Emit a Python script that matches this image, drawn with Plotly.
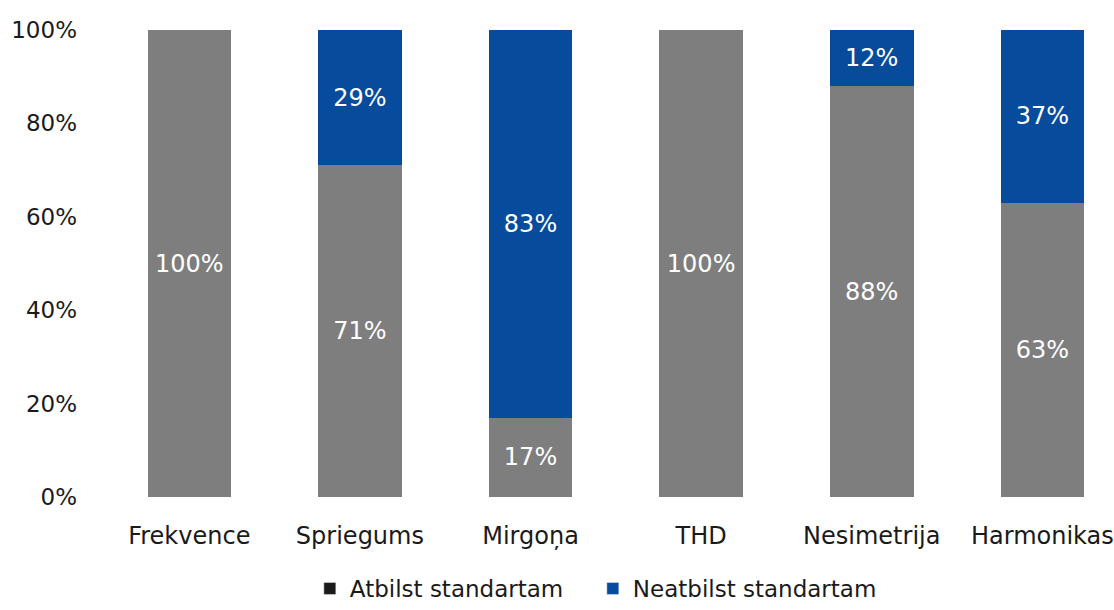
import plotly.graph_objects as go

categories = ["Frekvence", "Spriegums", "Mirgoņa", "THD", "Nesimetrija", "Harmonikas"]
atbilst = [100, 71, 17, 100, 88, 63]
neatbilst = [0, 29, 83, 0, 12, 37]
y_ticks = [0, 20, 40, 60, 80, 100]
y_tick_labels = [f"{v}%" for v in y_ticks]

GRAY = "#7e7e7e"
BLUE = "#064b9c"
FONT = "DejaVu Sans"

def labels(vals):
    return [f"{v}%" if v > 0 else "" for v in vals]

fig = go.Figure()
fig.add_trace(go.Bar(
    x=categories, y=atbilst, name="Atbilst standartam",
    marker=dict(color=GRAY, line=dict(width=0)),
    text=labels(atbilst), textposition="inside", insidetextanchor="middle",
    textfont=dict(color="white", size=24, family=FONT),
    showlegend=False,
))
fig.add_trace(go.Bar(
    x=categories, y=neatbilst, name="Neatbilst standartam",
    marker=dict(color=BLUE, line=dict(width=0)),
    text=labels(neatbilst), textposition="inside", insidetextanchor="middle",
    textfont=dict(color="white", size=24, family=FONT),
    showlegend=False,
))
# legend entries (the first one uses a dark swatch)
fig.add_trace(go.Bar(x=[None], y=[None], name="Atbilst standartam",
                     marker=dict(color="#1a1a1a")))
fig.add_trace(go.Bar(x=[None], y=[None], name="Neatbilst standartam",
                     marker=dict(color=BLUE)))

fig.update_layout(
    width=1114, height=610,
    barmode="stack", bargap=0.51,
    plot_bgcolor="white", paper_bgcolor="white",
    margin=dict(l=104, r=0, t=30, b=113),
    font=dict(family=FONT, size=24, color="#1a1a1a"),
    xaxis=dict(range=[-0.5, 5.42], showline=False, showgrid=False,
               ticks="", ticklabelstandoff=22,
               tickfont=dict(size=24, family=FONT, color="#1a1a1a")),
    yaxis=dict(range=[0, 100], tickmode="array", tickvals=y_ticks,
               ticktext=y_tick_labels,
               showgrid=False, showline=False, zeroline=False,
               ticks="", ticklabelstandoff=26,
               tickfont=dict(size=23, family=FONT, color="#1a1a1a")),
    legend=dict(orientation="h", x=0.484, xanchor="center",
                yref="container", y=0.0, yanchor="bottom",
                font=dict(size=23, family=FONT, color="#1a1a1a"),
                itemwidth=30, entrywidthmode="pixels", entrywidth=238,
                traceorder="normal"),
)

fig.write_html("out.html")
